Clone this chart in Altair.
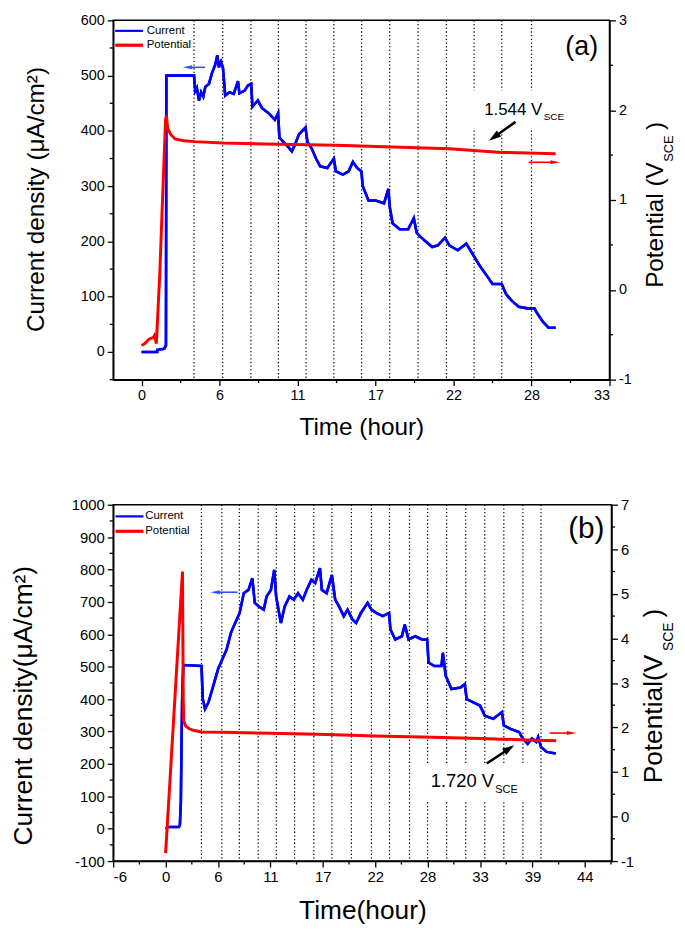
import altair as alt
import pandas as pd

FONT = "Liberation Sans"
BLUE = "#0000ff"
RED = "#ff0000"
ARROW_BLUE = "#3050ff"

# ---------------- panel (a) data ----------------
A_CUR_T = [0, 1.1, 1.12, 1.6, 1.72, 1.75, 3.7, 3.78, 3.9, 4.05, 4.2, 4.35, 4.5, 4.75, 4.97,
           5.2, 5.34, 5.45, 5.6, 5.74, 5.9, 6.2, 6.5, 6.8, 6.9, 7.27, 7.5, 7.73, 7.82,
           8.2, 8.5, 8.96, 9.4, 9.63, 9.72, 10.0, 10.34, 10.6, 10.8, 11.1, 11.56, 11.7,
           12.0, 12.3, 12.6, 13.1, 13.56, 13.7, 14.2, 14.6, 14.9, 15.2, 15.5, 15.6,
           16.0, 16.5, 17.1, 17.4, 17.5, 17.7, 18.2, 18.8, 19.2, 19.4, 19.6,
           20.0, 20.5, 20.9, 21.4, 21.7, 22.3, 22.9, 23.4, 23.8, 24.3, 24.75, 25.4, 25.7,
           26.1, 26.6, 27.2, 27.7, 27.9, 28.3, 28.7, 29.2]
A_CUR = [0, 0, 4, 6, 12, 500, 500, 472, 478, 455, 470, 462, 480, 485, 505,
         520, 537, 515, 525, 514, 464, 470, 467, 490, 468, 473, 482, 485, 444,
         455, 441, 432, 420, 432, 388, 380, 371, 363, 374, 394, 406, 380,
         368, 350, 336, 333, 350, 327, 321, 327, 344, 333, 327, 300,
         274, 274, 269, 295, 263, 233, 222, 222, 242, 216, 210,
         201, 190, 193, 207, 193, 184, 196, 175, 158, 140, 123, 123, 105,
         93, 82, 79, 79, 70, 55, 44, 44]
A_POT_T = [0, 0.21, 0.52, 0.83, 0.9, 0.98, 1.04, 1.07, 1.29, 1.5, 1.69, 1.75, 1.84, 2.05,
           2.36, 2.98, 3.74, 5.74, 9.72, 13.7, 17.7, 21.7, 25.4, 29.2]
A_POT = [-0.62, -0.60, -0.55, -0.53, -0.51, -0.55, -0.60, -0.51, 0.2, 1.1, 1.89, 1.94, 1.80, 1.73,
         1.68, 1.66, 1.65, 1.634, 1.62, 1.61, 1.59, 1.57, 1.53, 1.515]
A_MARKS = [3.7, 5.72, 7.71, 9.65, 11.6, 13.56, 15.52, 17.5, 19.5, 21.5, 23.45, 25.4, 27.5]
A_X_TICKS = [0, 5.5, 11, 16.5, 22, 27.5, 33]
A_X_LABELS = ["0", "6", "11", "17", "22", "28", "33"]
A_X_MINOR = [2.75, 8.25, 13.75, 19.25, 24.75, 30.25]
A_YL_TICKS = [0, 100, 200, 300, 400, 500, 600]
A_YL_LABELS = ["0", "100", "200", "300", "400", "500", "600"]
A_YL_MINOR = [-50, 50, 150, 250, 350, 450, 550]
A_YR_TICKS = [-1, 0, 1, 2, 3]
A_YR_LABELS = ["-1", "0", "1", "2", "3"]
A_YR_MINOR = [-0.5, 0.5, 1.5, 2.5]

# ---------------- panel (b) data ----------------
B_CUR_T = [0, 0.27, 1.4, 1.5, 1.6, 1.68, 1.75, 1.86, 3.77, 3.9, 4.14, 4.5, 5.0, 5.5, 5.95,
           6.4, 6.86, 7.3, 7.77, 8.2, 8.7, 9.1, 9.36, 9.8, 10.3, 10.6, 11.05, 11.4, 11.6,
           12.1, 12.5, 13.0, 13.45, 13.9, 14.4, 14.8, 15.3, 15.7, 16.2, 16.4, 16.9, 17.45, 17.8,
           18.2, 18.7, 19.1, 19.6, 20.0, 20.5, 21.2, 21.6, 22.1, 22.8, 23.45, 23.6,
           24.1, 24.8, 25.1, 25.5, 26.2, 26.9, 27.45, 27.6, 28.2, 28.95, 29.1, 29.4,
           30.0, 30.95, 31.4, 31.6, 32.3, 33.0, 33.5, 34.4, 35.3, 35.5, 36.2, 37.1, 37.5,
           38.0, 38.45, 38.9, 39.1, 39.4, 40.0, 40.95]
B_CUR = [0, 5, 5, 12, 84, 288, 420, 505, 502, 400, 370, 390, 441, 492, 523,
         553, 605, 635, 666, 727, 737, 773, 697, 686, 676, 717, 737, 799, 717,
         635, 686, 717, 707, 727, 707, 737, 768, 758, 804, 737, 727, 783, 707,
         686, 656, 676, 646, 635, 666, 697, 676, 666, 656, 666, 615,
         584, 594, 630, 584, 594, 584, 584, 513, 502, 502, 543, 472,
         431, 436, 446, 400, 390, 380, 349, 339, 360, 319, 308, 298, 278,
         262, 278, 268, 283, 252, 237, 232]
B_POT_T = [0, 1.77, 1.85, 1.9, 2.1, 2.5, 3.0, 3.8, 6, 11, 17, 22, 28, 33, 38, 41]
B_POT = [-0.82, 5.5, 2.6, 2.15, 2.03, 1.97, 1.93, 1.9, 1.89, 1.87, 1.84, 1.81, 1.78, 1.75, 1.72, 1.70]
B_MARKS = [3.76, 5.9, 7.74, 9.72, 11.62, 13.54, 15.55, 17.45, 19.5, 21.6, 23.5, 25.6,
           27.5, 29.5, 31.5, 33.5, 35.5, 37.5, 39.4]
B_X_TICKS = [-5.5, 0, 5.5, 11, 16.5, 22, 27.5, 33, 38.5, 44]
B_X_LABELS = ["-6", "0", "6", "11", "17", "22", "28", "33", "39", "44"]
B_X_MINOR = [-2.75, 2.75, 8.25, 13.75, 19.25, 24.75, 30.25, 35.75, 41.25, 46.75]
B_YL_TICKS = [-100, 0, 100, 200, 300, 400, 500, 600, 700, 800, 900, 1000]
B_YL_LABELS = ["-100", "0", "100", "200", "300", "400", "500", "600", "700", "800", "900", "1000"]
B_YL_MINOR = [-50, 50, 150, 250, 350, 450, 550, 650, 750, 850, 950]
B_YR_TICKS = [-1, 0, 1, 2, 3, 4, 5, 6, 7]
B_YR_LABELS = ["-1", "0", "1", "2", "3", "4", "5", "6", "7"]
B_YR_MINOR = [-0.5, 0.5, 1.5, 2.5, 3.5, 4.5, 5.5, 6.5]

assert len(A_CUR_T) == len(A_CUR) and len(A_POT_T) == len(A_POT)
assert len(B_CUR_T) == len(B_CUR) and len(B_POT_T) == len(B_POT)


def df(**cols):
    return pd.DataFrame(cols)


def label_expr(values, labels):
    parts = [f"datum.value === {v} ? '{l}'" for v, l in zip(values, labels)]
    return " : ".join(parts) + " : ''"


AX = dict(domainColor="black", domainWidth=1.5, tickColor="black", tickWidth=1.3,
          tickSize=6, labelColor="black", labelFont=FONT, grid=False, titleFont=FONT,
          titleFontWeight="normal", titleColor="black", labelPadding=3)

HEAD = "M0,0L0.42,2L-0.42,2Z"
HEAD_BLACK = "M0,0L0.62,2L-0.62,2Z"
MINOR = 3.5


class Enc:
    """Shared scales/axes of one panel, so every layer uses identical ones."""

    def __init__(self, xs, xa, ysl, yla, ysr, yra):
        self.xs, self.xa, self.ysl, self.yla, self.ysr, self.yra = xs, xa, ysl, yla, ysr, yra

    def x(self, f):
        return alt.X(f, scale=self.xs, axis=self.xa)

    def y(self, f, right=False):
        if right:
            return alt.Y(f, scale=self.ysr, axis=self.yra)
        return alt.Y(f, scale=self.ysl, axis=self.yla)


def arrow(E, x0, y0, x1, y1, right, color, width, angle, size, shape, frac):
    sx = x0 + (x1 - x0) * (1 - frac)
    sy = y0 + (y1 - y0) * (1 - frac)
    d = df(x=[x0], y=[y0], x2=[sx], y2=[sy], tx=[x1], ty=[y1])
    shaft = alt.Chart(d).mark_rule(color=color, strokeWidth=width).encode(
        x=E.x("x:Q"), y=E.y("y:Q", right), x2="x2:Q", y2="y2:Q")
    head = alt.Chart(d).mark_point(shape=shape, filled=True, color=color, opacity=1,
                                   size=size, angle=angle, strokeWidth=0).encode(
        x=E.x("tx:Q"), y=E.y("ty:Q", right))
    return [shaft, head]


def dtext(E, text, x, y, right, fs, align="left", baseline="alphabetic"):
    return alt.Chart(df(x=[x], y=[y])).mark_text(
        text=text, align=align, baseline=baseline, fontSize=fs, font=FONT, color="black"
    ).encode(x=E.x("x:Q"), y=E.y("y:Q", right))


def vtext(text, x, y, fs):
    return alt.Chart(df(a=[0])).mark_text(
        text=text, angle=270, align="left", baseline="alphabetic", fontSize=fs, font=FONT,
        color="black").encode(x=alt.value(x), y=alt.value(y))


def panel(p):
    w, h = p["w"], p["h"]
    xs = alt.Scale(domain=p["xdom"], nice=False, zero=False)
    ysl = alt.Scale(domain=p["yldom"], nice=False, zero=False)
    ysr = alt.Scale(domain=p["yrdom"], nice=False, zero=False)

    x_axis = alt.Axis(values=p["xt"], labelExpr=label_expr(p["xt"], p["xl"]),
                      title=p["xtitle"], titleFontSize=p["tfs"],
                      titleY=p["xtitleY"], titleBaseline="alphabetic", labelFontSize=p["lfs"],
                      **AX)
    yl_axis = alt.Axis(values=p["ylt"], labelExpr=label_expr(p["ylt"], p["yll"]),
                       title=p["ytitle"], titleFontSize=p["tfs"],
                       titleX=p["ytitleX"], titleY=p["ytitleY"], titleBaseline="alphabetic",
                       labelFontSize=p["lfs"], orient="left", **AX)
    yr_axis = alt.Axis(values=p["yrt"], labelExpr=label_expr(p["yrt"], p["yrl"]),
                       title="", orient="right", labelFontSize=p["lfs"], **AX)
    E = Enc(xs, x_axis, ysl, yl_axis, ysr, yr_axis)

    blue = alt.Chart(df(t=p["cur_t"], v=p["cur"])).mark_line(
        color=BLUE, strokeWidth=2.6).encode(x=E.x("t:Q"), y=E.y("v:Q"))
    rules = alt.Chart(df(t=p["marks"])).mark_rule(
        color="black", strokeWidth=1.2, strokeDash=[1.3, 2.4]).encode(x=E.x("t:Q"))
    gx0, gx1, gy0, gy1 = p["gap"]
    gap = alt.Chart(df(x=[gx0], x2=[gx1], y=[gy0], y2=[gy1])).mark_rect(
        color="white", opacity=1).encode(x=E.x("x:Q"), x2="x2:Q", y=E.y("y:Q"), y2="y2:Q")

    # minor ticks (outward, shorter than the major ticks)
    xminor = alt.Chart(df(t=p["xm"])).mark_rule(color="black", strokeWidth=1.3).encode(
        x=E.x("t:Q"), y=alt.value(h), y2=alt.value(h + MINOR))
    ylminor = alt.Chart(df(v=p["ylm"])).mark_rule(color="black", strokeWidth=1.3).encode(
        y=E.y("v:Q"), x=alt.value(0), x2=alt.value(-MINOR))
    yrminor = alt.Chart(df(v=p["yrm"])).mark_rule(color="black", strokeWidth=1.3).encode(
        y=E.y("v:Q", True), x=alt.value(w), x2=alt.value(w + MINOR))

    lx0, lx1, ltx, ly1, ly2 = p["legend"]
    leg_blue = alt.Chart(df(x=[lx0], x2=[lx1], y=[ly1])).mark_rule(
        color=BLUE, strokeWidth=2.2).encode(x=E.x("x:Q"), x2="x2:Q", y=E.y("y:Q"))
    leg_red = alt.Chart(df(x=[lx0], x2=[lx1], y=[ly2])).mark_rule(
        color=RED, strokeWidth=3.2).encode(x=E.x("x:Q"), x2="x2:Q", y=E.y("y:Q"))
    leg_t1 = dtext(E, "Current", ltx, ly1, False, p["legfs"], baseline="middle")
    leg_t2 = dtext(E, "Potential", ltx, ly2, False, p["legfs"], baseline="middle")

    tag = dtext(E, p["tag"], p["tag_pos"][0], p["tag_pos"][1], False, p["tagfs"],
                align="center", baseline="middle")
    ba = p["blue_arrow"]
    blue_arrow = arrow(E, ba[0], ba[2], ba[1], ba[2], False, ARROW_BLUE, 1.6, 270, 90, HEAD, 0.25)

    left = alt.layer(blue, rules, gap, xminor, ylminor, blue, *blue_arrow,
                     leg_blue, leg_red, leg_t1, leg_t2, tag)

    red = alt.Chart(df(t=p["pot_t"], v=p["pot"])).mark_line(
        color=RED, strokeWidth=3).encode(x=E.x("t:Q"), y=E.y("v:Q", True))
    ra = p["red_arrow"]
    red_arrow = arrow(E, ra[0], ra[2], ra[1], ra[2], True, RED, 1.6, 90, 90, HEAD, 0.25)
    ka = p["black_arrow"]
    black_arrow = arrow(E, ka[0], ka[1], ka[2], ka[3], True, "black", 2.6, ka[4], 150,
                        HEAD_BLACK, 0.3)
    vx, vy, vsx, vsy = p["vval"]
    val = dtext(E, p["vtext"], vx, vy, True, p["valfs"])
    sce = dtext(E, "SCE", vsx, vsy, True, p["valsub"])

    rt = p["rtitle"]
    rtitle = [vtext(rt[0], rt[1], rt[2], p["tfs"]),
              vtext("SCE", rt[3], rt[4], p["subfs"]),
              vtext(")", rt[1], rt[5], p["tfs"])]

    right = alt.layer(red, yrminor, *red_arrow, *black_arrow, val, sce, *rtitle)

    return alt.layer(left, right).resolve_scale(y="independent").properties(width=w, height=h)


PA = dict(
    xdom=[-2, 33], yldom=[-50, 600], yrdom=[-1, 3],
    xt=A_X_TICKS, xl=A_X_LABELS, xm=A_X_MINOR,
    ylt=A_YL_TICKS, yll=A_YL_LABELS, ylm=A_YL_MINOR,
    yrt=A_YR_TICKS, yrl=A_YR_LABELS, yrm=A_YR_MINOR,
    xtitle="Time (hour)", ytitle="Current density (\u03bcA/cm\u00b2)",
    tfs=24.5, subfs=13, lfs=14.5, legfs=11.5, tagfs=27, valfs=17, valsub=10,
    xtitleY=55, ytitleX=-70, ytitleY=180,
    marks=A_MARKS, gap=[23.0, 28.0, 405, 473],
    cur_t=A_CUR_T, cur=A_CUR, pot_t=A_POT_T, pot=A_POT,
    legend=[-1.86, 0.1, 0.36, 581, 555],
    tag="(a)", tag_pos=[31.04, 552],
    blue_arrow=[4.48, 2.9, 515],
    red_arrow=[27.3, 29.5, 1.42],
    black_arrow=[26.37, 1.87, 24.51, 1.66, 234],
    vtext="1.544 V", vval=[24.16, 1.948, 28.36, 1.887],
    rtitle=["Potential (V", 553.7, 269.5, 563.7, 142.5, 110.5],
    w=500, h=362,
)

PB = dict(
    xdom=[-5.5, 46.8], yldom=[-100, 1000], yrdom=[-1, 7],
    xt=B_X_TICKS, xl=B_X_LABELS, xm=B_X_MINOR,
    ylt=B_YL_TICKS, yll=B_YL_LABELS, ylm=B_YL_MINOR,
    yrt=B_YR_TICKS, yrl=B_YR_LABELS, yrm=B_YR_MINOR,
    xtitle="Time(hour)", ytitle="Current density(\u03bcA/cm\u00b2)",
    tfs=26.5, subfs=14, lfs=15, legfs=11.5, tagfs=30, valfs=18.5, valsub=11,
    xtitleY=58, ytitleX=-82, ytitleY=202,
    marks=B_MARKS, gap=[27.0, 38.5, 88, 201],
    cur_t=B_CUR_T, cur=B_CUR, pot_t=B_POT_T, pot=B_POT,
    legend=[-5.26, -2.32, -2.14, 964, 918],
    tag="(b)", tag_pos=[44.16, 924],
    blue_arrow=[7.55, 4.7, 730],
    red_arrow=[40.3, 43.1, 1.875],
    black_arrow=[33.7, 1.19, 36.6, 1.60, 57],
    vtext="1.720 V", vval=[27.83, 0.671, 34.6, 0.52],
    rtitle=["Potential(V", 553, 280.7, 563.5, 147.4, 113.7],
    w=502, h=359,
)

chart = alt.vconcat(panel(PA), panel(PB), spacing=57).properties(
    padding={"left": 2, "top": 0, "right": 0, "bottom": 0}).configure(
    font=FONT).configure_view(stroke="black", strokeWidth=1.5)

chart.save("out.html", embed_options={"renderer": "svg", "actions": False})
